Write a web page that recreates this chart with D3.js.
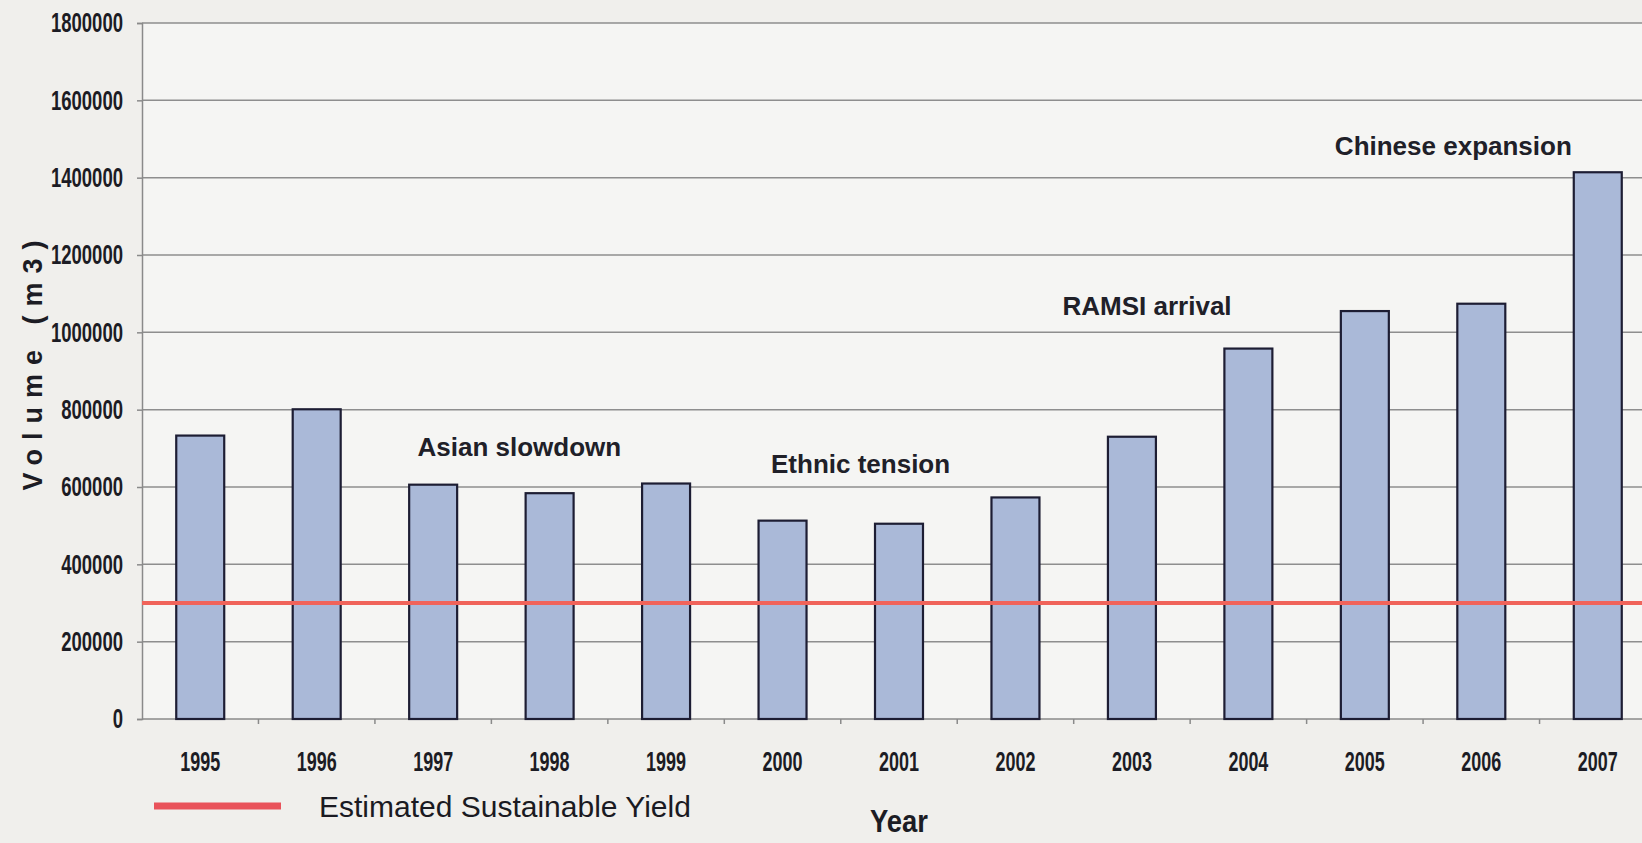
<!DOCTYPE html>
<html>
<head>
<meta charset="utf-8">
<script src="https://cdn.jsdelivr.net/npm/d3@7"></script>
<style>
  html, body { margin: 0; padding: 0; background: #f0efec; overflow: hidden; }
  svg { display: block; }
  .tick text { font-family: 'Liberation Sans Narrow', 'Arial Narrow', 'Liberation Sans', Arial, sans-serif; font-weight: bold; fill: #1c1c24; }
</style>
</head>
<body>
<svg id="chart" width="1642" height="843"></svg>
<script>
// Data
const years = ['1995', '1996', '1997', '1998', '1999', '2000', '2001', '2002', '2003', '2004', '2005', '2006', '2007']
const volumes = [733000, 801000, 606000, 584000, 609000, 513000, 505000, 573000, 730000, 958000, 1055000, 1074000, 1414000]
const sustainableYield = 300000
const yTicks = [0, 200000, 400000, 600000, 800000, 1000000, 1200000, 1400000, 1600000, 1800000]
// annotations: position along the year axis (in bands), baseline value
const noteTexts = ['Asian slowdown', 'Ethnic tension', 'RAMSI arrival', 'Chinese expansion']
const notePos = [3.24, 6.17, 8.63, 11.26]
const noteValues = [680000, 636000, 1045000, 1459000]

const width = 1642
const height = 843
const margin = { top: 23, left: 142, bottom: 124 }
const plotRight = 1656 // plot area runs past the cropped right edge

const svg = d3.select('#chart')

// Scales
const x = d3.scaleBand()
  .domain(years)
  .range([margin.left, plotRight])
  .paddingInner(0.588)
  .paddingOuter(0.294)
const xPos = d3.scaleLinear().domain([0, years.length]).range([margin.left, plotRight])
const y = d3.scaleLinear()
  .domain([0, 1800000])
  .range([height - margin.bottom, margin.top])

// Plot background
svg.append('rect')
  .attr('x', margin.left).attr('y', y(1800000))
  .attr('width', plotRight - margin.left).attr('height', y(0) - y(1800000))
  .attr('fill', '#f5f5f3')

// Gridlines
svg.append('g')
  .selectAll('line')
  .data(yTicks.filter(d => d > 0))
  .join('line')
  .attr('x1', margin.left).attr('x2', plotRight)
  .attr('y1', d => y(d)).attr('y2', d => y(d))
  .attr('stroke', '#8e8e8e')
  .attr('stroke-width', 1.5)

// Y axis
const yAxis = svg.append('g')
  .attr('transform', `translate(${margin.left},0)`)
  .call(d3.axisLeft(y).tickValues(yTicks).tickSize(5).tickPadding(14).tickFormat(d3.format('d')))
yAxis.select('.domain').attr('stroke', '#8a8a8a').attr('stroke-width', 1.5)
yAxis.selectAll('.tick line').attr('stroke', '#8a8a8a').attr('stroke-width', 1.5)
yAxis.selectAll('.tick text')
  .attr('font-size', 28)
  .attr('textLength', d => String(d).length * 10.3)
  .attr('lengthAdjust', 'spacingAndGlyphs')

// X axis: ticks on band boundaries, labels under band centres
const xAxis = svg.append('g')
  .attr('transform', `translate(0,${y(0)})`)
xAxis.append('line')
  .attr('x1', margin.left).attr('x2', plotRight)
  .attr('stroke', '#8a8a8a').attr('stroke-width', 1.5)
xAxis.selectAll('line.bound')
  .data(d3.range(1, years.length + 1))
  .join('line')
  .attr('class', 'bound')
  .attr('x1', d => xPos(d)).attr('x2', d => xPos(d))
  .attr('y1', 0).attr('y2', 5)
  .attr('stroke', '#8a8a8a').attr('stroke-width', 1.5)
xAxis.selectAll('text')
  .data(years)
  .join('text')
  .attr('x', d => x(d) + x.bandwidth() / 2)
  .attr('y', 52)
  .attr('text-anchor', 'middle')
  .attr('font-family', "'Liberation Sans Narrow', 'Arial Narrow', 'Liberation Sans', Arial, sans-serif")
  .attr('font-weight', 'bold')
  .attr('font-size', 28)
  .attr('fill', '#1c1c24')
  .attr('textLength', 40)
  .attr('lengthAdjust', 'spacingAndGlyphs')
  .text(d => d)

// Bars
svg.append('g')
  .selectAll('rect')
  .data(volumes)
  .join('rect')
  .attr('x', (d, i) => x(years[i]))
  .attr('y', d => y(d))
  .attr('width', x.bandwidth())
  .attr('height', d => y(0) - y(d))
  .attr('fill', '#aab9d8')
  .attr('stroke', '#1d1d33')
  .attr('stroke-width', 2.2)

// Sustainable yield line
svg.append('line')
  .attr('x1', margin.left).attr('x2', plotRight)
  .attr('y1', y(sustainableYield)).attr('y2', y(sustainableYield))
  .attr('stroke', '#f0635a')
  .attr('stroke-width', 4)

// Annotations
svg.append('g')
  .selectAll('text')
  .data(noteTexts)
  .join('text')
  .attr('x', (d, i) => xPos(notePos[i]))
  .attr('y', (d, i) => y(noteValues[i]))
  .attr('text-anchor', 'middle')
  .attr('font-family', "'Liberation Sans', Arial, sans-serif")
  .attr('font-weight', 'bold')
  .attr('font-size', 26)
  .attr('fill', '#202028')
  .text(d => d)

// Axis titles
svg.append('text')
  .attr('transform', 'translate(42,361) rotate(-90)')
  .attr('text-anchor', 'middle')
  .attr('font-family', "'Liberation Sans', Arial, sans-serif")
  .attr('font-weight', 'bold')
  .attr('font-size', 27)
  .attr('letter-spacing', 9)
  .attr('fill', '#1c1c24')
  .text('Volume (m3)')

svg.append('text')
  .attr('x', (margin.left + plotRight) / 2)
  .attr('y', 832)
  .attr('text-anchor', 'middle')
  .attr('font-family', "'Liberation Sans Narrow', 'Arial Narrow', 'Liberation Sans', Arial, sans-serif")
  .attr('font-weight', 'bold')
  .attr('font-size', 32)
  .attr('fill', '#1c1c24')
  .attr('textLength', 58)
  .attr('lengthAdjust', 'spacingAndGlyphs')
  .text('Year')

// Legend
const legend = svg.append('g').attr('transform', 'translate(154,806)')
legend.append('line')
  .attr('x1', 0).attr('x2', 127)
  .attr('stroke', '#e9525a')
  .attr('stroke-width', 7)
legend.append('text')
  .attr('x', 165)
  .attr('y', 11)
  .attr('font-family', "'Liberation Sans', Arial, sans-serif")
  .attr('font-size', 30)
  .attr('fill', '#1a1a22')
  .text('Estimated Sustainable Yield')
</script>
</body>
</html>
